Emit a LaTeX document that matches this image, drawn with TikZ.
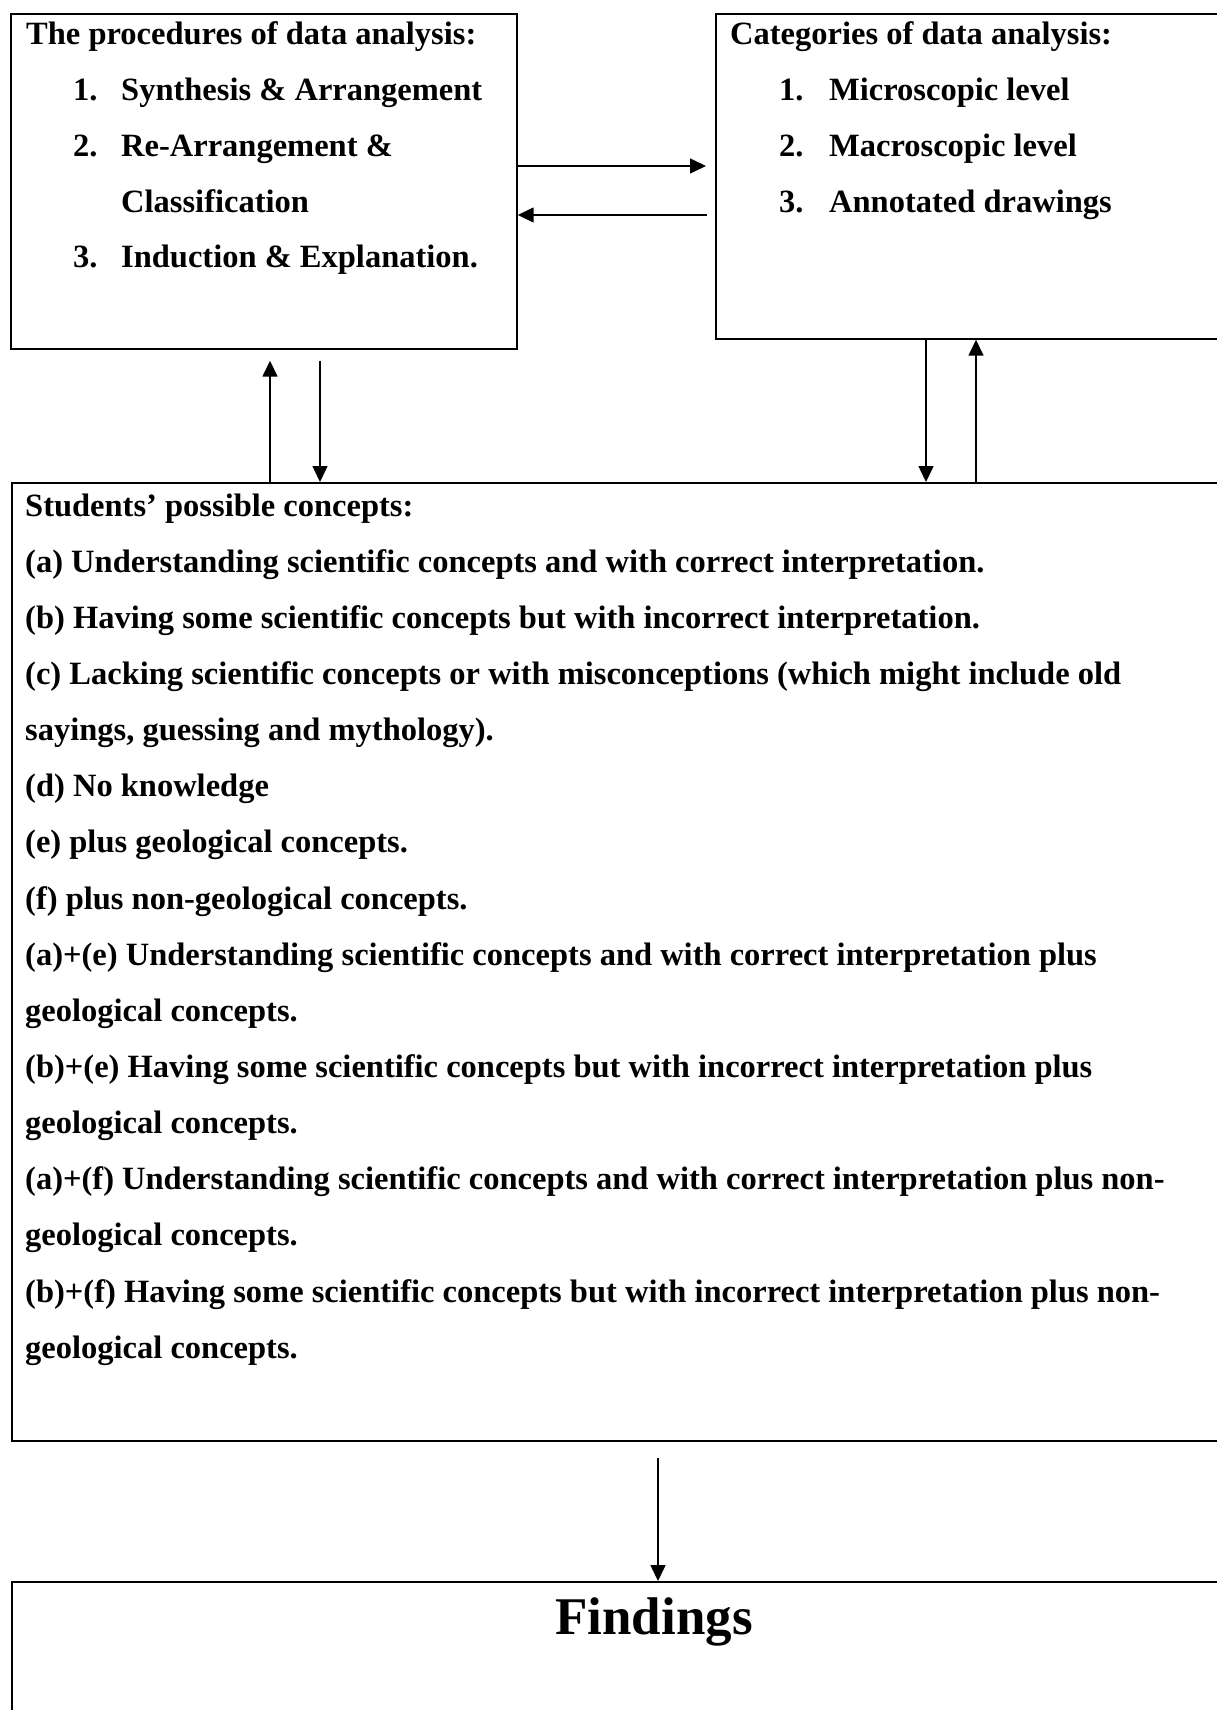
\documentclass[tikz,border=0pt]{standalone}
\usepackage{fontspec}
\setmainfont{Liberation Serif}
\usetikzlibrary{arrows.meta,calc}
\begin{document}
\begin{tikzpicture}[x=1pt,y=-1pt,
  box/.style={draw,line width=1.7pt,rectangle,anchor=north west,inner sep=0pt},
  txt/.style={anchor=base west,inner sep=0pt,font=\fontsize{32.5}{36}\selectfont\bfseries},
  arr/.style={line width=1.5pt,-{Triangle[length=16pt,width=15pt]}}]
\useasboundingbox (0,0) rectangle (1216,1710);
% boxes
\node[box,minimum width=506pt,minimum height=335pt] (lbox) at (10,13) {};
\node[box,minimum width=512pt,minimum height=325pt] (rbox) at (715,13) {};
\node[box,minimum width=1216pt,minimum height=958pt] (mbox) at (11,482) {};
\node[box,minimum width=1216pt,minimum height=145pt] (fbox) at (11,1581) {};
% helper coordinates
\coordinate (y1) at (0,166);
\coordinate (y2) at (0,215);
\coordinate (xa) at (270,0);
\coordinate (xb) at (320,0);
\coordinate (xc) at (926,0);
\coordinate (xd) at (976,0);
\coordinate (xe) at (658,0);
% connectors
\draw[arr,shorten >=9pt] (lbox.east |- y1) -- (rbox.west |- y1);
\draw[arr,shorten <=8pt] (rbox.west |- y2) -- (lbox.east |- y2);
\draw[arr,shorten >=11pt] (mbox.north -| xa) -- (lbox.south -| xa);
\draw[arr,shorten <=11pt] (lbox.south -| xb) -- (mbox.north -| xb);
\draw[arr] (rbox.south -| xc) -- (mbox.north -| xc);
\draw[arr] (mbox.north -| xd) -- (rbox.south -| xd);
\draw[arr,shorten <=16pt] (mbox.south -| xe) -- (fbox.north -| xe);
% left box text
\node[txt] (l0) at (26,45) {The procedures of data analysis:};
\node[txt] (l1n) at (73,100) {1.};
\node[txt] (l1) at (121,100) {Synthesis \& Arrangement};
\node[txt] (l2n) at (73,156) {2.};
\node[txt] (l2) at (121,156) {Re-Arrangement \&};
\node[txt] (l2b) at (121,212) {Classification};
\node[txt] (l3n) at (73,267) {3.};
\node[txt] (l3) at (121,267) {Induction \& Explanation.};
% right box text
\node[txt] (r0) at (730,45) {Categories of data analysis:};
\node[txt] (r1n) at (779,100) {1.};
\node[txt] (r1) at (829,100) {Microscopic level};
\node[txt] (r2n) at (779,156) {2.};
\node[txt] (r2) at (829,156) {Macroscopic level};
\node[txt] (r3n) at (779,212) {3.};
\node[txt] (r3) at (829,212) {Annotated drawings};
% middle box text
\foreach \t [count=\i from 0] in {
  {Students’ possible concepts:},
  {(a) Understanding scientific concepts and with correct interpretation.},
  {(b) Having some scientific concepts but with incorrect interpretation.},
  {(c) Lacking scientific concepts or with misconceptions (which might include old},
  {sayings, guessing and mythology).},
  {(d) No knowledge},
  {(e) plus geological concepts.},
  {(f) plus non-geological concepts.},
  {(a)+(e) Understanding scientific concepts and with correct interpretation plus},
  {geological concepts.},
  {(b)+(e) Having some scientific concepts but with incorrect interpretation plus},
  {geological concepts.},
  {(a)+(f) Understanding scientific concepts and with correct interpretation plus non-},
  {geological concepts.},
  {(b)+(f) Having some scientific concepts but with incorrect interpretation plus non-},
  {geological concepts.}}
  \node[txt] (m\i) at (25,{516+56.15*\i}) {\t};
% findings
\node[anchor=base,inner sep=0pt,font=\fontsize{53}{60}\selectfont\bfseries] (ft) at (654,1634) {Findings};
\end{tikzpicture}
\end{document}
